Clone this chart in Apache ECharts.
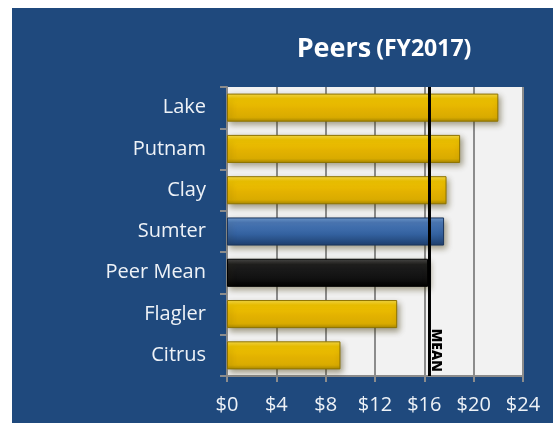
<!DOCTYPE html>
<html>
<head>
<meta charset="utf-8">
<script src="https://cdn.jsdelivr.net/npm/echarts@6/dist/echarts.min.js"></script>
<style>
  html, body { margin: 0; padding: 0; background: #fff; }
  #chart { position: absolute; left: 12px; top: 8px; width: 541px; height: 415px; background: #1F497D; }
</style>
</head>
<body>
<div id="chart"></div>
<script>
'use strict';

// Peer cost values (FY2017), top to bottom as shown
var categories = ['Lake', 'Putnam', 'Clay', 'Sumter', 'Peer Mean', 'Flagler', 'Citrus'],
		values = [22.0, 18.9, 17.8, 17.6, 16.3, 13.8, 9.2],
		meanValue = 16.4,
		xTicks = [0, 4, 8, 12, 16, 20, 24];

var gold = {
		type: 'linear', x: 0, y: 0, x2: 0, y2: 1,
		colorStops: [
			{offset: 0, color: '#F9DC4A'},
			{offset: 0.18, color: '#F0C400'},
			{offset: 0.55, color: '#E3B200'},
			{offset: 0.85, color: '#D9AB00'},
			{offset: 1, color: '#A98800'}
		]
	},
	blue = {
		type: 'linear', x: 0, y: 0, x2: 0, y2: 1,
		colorStops: [
			{offset: 0, color: '#6E9BD3'},
			{offset: 0.18, color: '#4A78B8'},
			{offset: 0.6, color: '#33619F'},
			{offset: 1, color: '#1E3F6E'}
		]
	},
	black = {
		type: 'linear', x: 0, y: 0, x2: 0, y2: 1,
		colorStops: [
			{offset: 0, color: '#4A4A4A'},
			{offset: 0.2, color: '#1E1E1E'},
			{offset: 0.7, color: '#111111'},
			{offset: 1, color: '#000000'}
		]
	};

function barStyle(name) {
	var fill = gold, edge = '#8E7300';
	if (name === 'Sumter') {
		fill = blue; edge = '#1A355C';
	} else if (name === 'Peer Mean') {
		fill = black; edge = '#000';
	}
	return {
		color: fill,
		borderColor: edge,
		borderWidth: 1,
		shadowColor: 'rgba(60,50,0,0.45)',
		shadowBlur: 6,
		shadowOffsetX: 2,
		shadowOffsetY: 3
	};
}

var barData = categories.map(function (c, i) {
	return {value: values[i], itemStyle: barStyle(c)};
});

var labelColor = '#EEF2F7',
		gridColor = '#8C8C8C',
		font = '"Open Sans", sans-serif';

var chart = echarts.init(document.getElementById('chart'));

chart.setOption({
	animation: false,
	title: {
		text: '{a|Peers} {b|(FY2017)}',
		left: 367,
		top: 23,
		textAlign: 'center',
		textStyle: {
			rich: {
				a: {color: '#fff', fontFamily: font, fontWeight: 'bold', fontSize: 27},
				b: {color: '#fff', fontFamily: font, fontWeight: 'bold', fontSize: 23}
			}
		}
	},
	grid: {
		left: 215,
		right: 30,
		top: 79,
		bottom: 47,
		show: true,
		backgroundColor: '#F2F2F2',
		borderWidth: 0
	},
	xAxis: {
		type: 'value',
		min: 0,
		max: 24,
		interval: 4,
		axisLine: {show: true, lineStyle: {color: gridColor, width: 2}},
		axisTick: {show: true, length: 6, lineStyle: {color: gridColor, width: 2}},
		splitLine: {show: true, lineStyle: {color: gridColor, width: 2}},
		axisLabel: {
			color: labelColor,
			fontFamily: font,
			fontSize: 20,
			margin: 19,
			formatter: function (v) {
				return xTicks.indexOf(v) >= 0 ? '$' + v : '';
			}
		}
	},
	yAxis: {
		type: 'category',
		data: categories,
		inverse: true,
		axisLine: {show: true, lineStyle: {color: gridColor, width: 2}},
		axisTick: {show: true, length: 7, lineStyle: {color: gridColor, width: 2}},
		axisLabel: {
			color: labelColor,
			fontFamily: font,
			fontSize: 20,
			margin: 21
		}
	},
	series: [
		{
			name: 'Peers',
			type: 'bar',
			barWidth: '68%',
			data: barData,
			markLine: {
				silent: true,
				symbol: ['none', 'none'],
				lineStyle: {color: '#000', width: 3, type: 'solid'},
				label: {show: false},
				data: [{xAxis: meanValue}]
			},
			markPoint: {
				silent: true,
				symbol: 'rect',
				symbolSize: 0,
				data: [{coord: [meanValue, 'Citrus']}],
				label: {
					show: true,
					formatter: 'MEAN',
					rotate: -90,
					color: '#000',
					fontFamily: font,
					fontWeight: 900,
					fontSize: 14,
					// offset is in the rotated frame: [down, left]
					offset: [-5, -7]
				}
			}
		}
	]
});
</script>
</body>
</html>
